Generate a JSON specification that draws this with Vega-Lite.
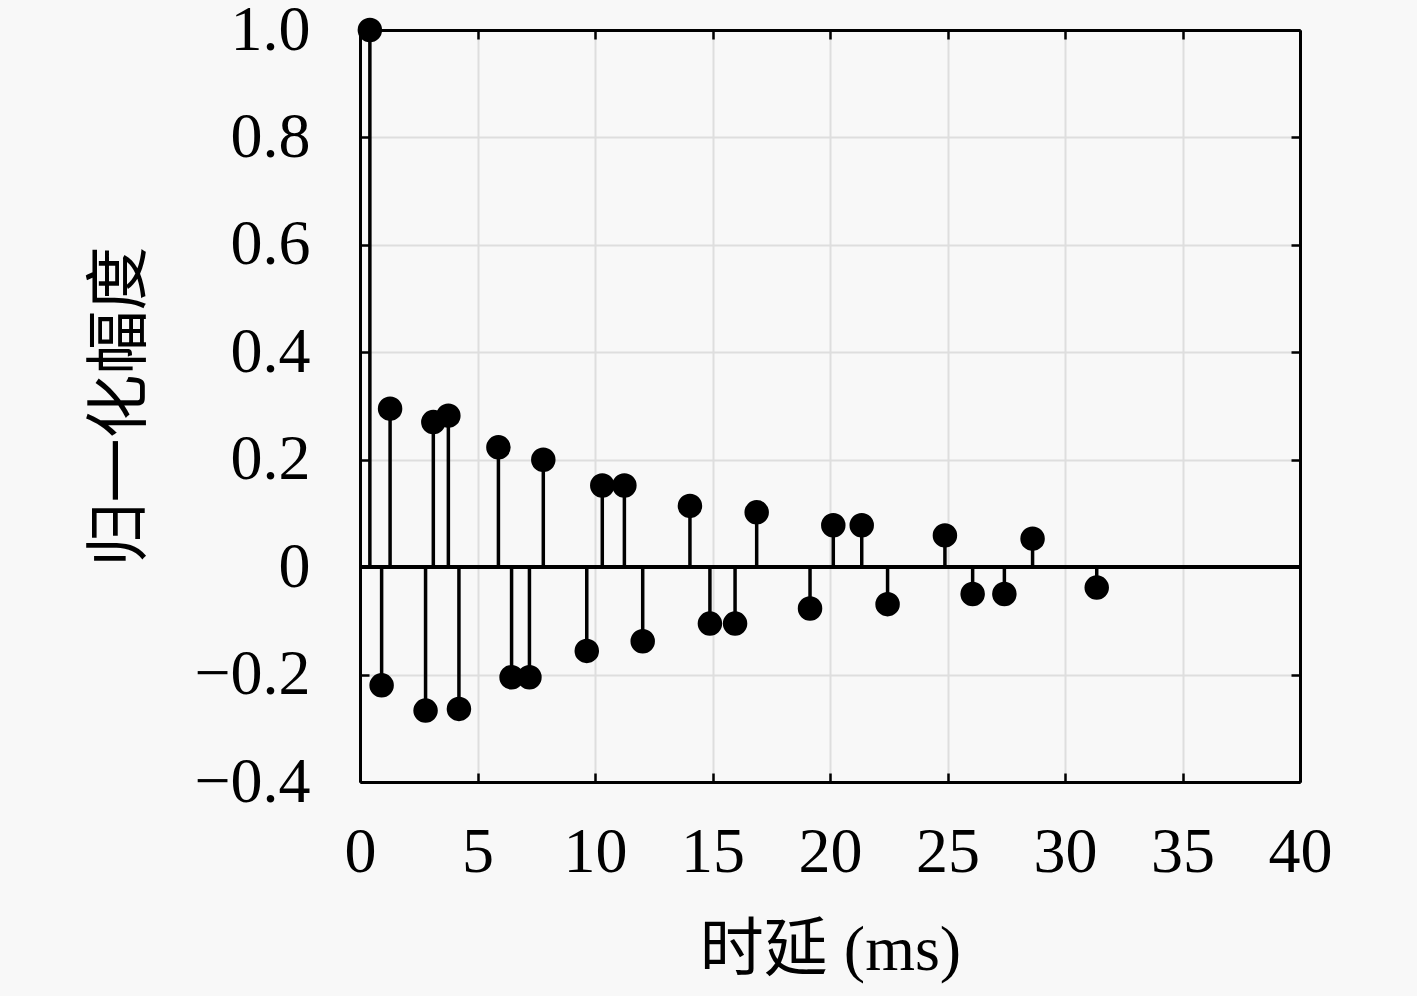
{
  "$schema": "https://vega.github.io/schema/vega-lite/v6.json",
  "width": 940,
  "height": 752,
  "autosize": "none",
  "padding": {"left": 360, "top": 30, "right": 117, "bottom": 214},
  "background": "#f8f8f8",
  "config": {
    "view": {"stroke": null},
    "font": "Liberation Serif",
    "axis": {
      "domainColor": "black",
      "domainWidth": 3,
      "tickColor": "black",
      "tickWidth": 2.5,
      "tickSize": -9,
      "gridColor": "#dedede",
      "gridWidth": 2,
      "labelFont": "Liberation Serif",
      "labelFontSize": 64,
      "labelColor": "black",
      "labelFlush": false,
      "titleFont": "Liberation Serif, Noto Sans CJK SC",
      "titleFontSize": 64,
      "titleFontWeight": "normal",
      "titleColor": "black"
    }
  },
  "data": {
    "values": [
      {"t": 0.42, "v": 1.0},
      {"t": 0.92, "v": -0.22},
      {"t": 1.28, "v": 0.295},
      {"t": 2.79, "v": -0.267},
      {"t": 3.12, "v": 0.27},
      {"t": 3.76, "v": 0.282},
      {"t": 4.21, "v": -0.264},
      {"t": 5.89, "v": 0.223},
      {"t": 6.45, "v": -0.205},
      {"t": 7.21, "v": -0.205},
      {"t": 7.8, "v": 0.2},
      {"t": 9.65, "v": -0.156},
      {"t": 10.31, "v": 0.152},
      {"t": 11.25, "v": 0.152},
      {"t": 12.03, "v": -0.138},
      {"t": 14.04, "v": 0.114},
      {"t": 14.89, "v": -0.105},
      {"t": 15.96, "v": -0.105},
      {"t": 16.88, "v": 0.102},
      {"t": 19.15, "v": -0.077},
      {"t": 20.14, "v": 0.078},
      {"t": 21.35, "v": 0.078},
      {"t": 22.45, "v": -0.069},
      {"t": 24.89, "v": 0.059},
      {"t": 26.07, "v": -0.05},
      {"t": 27.42, "v": -0.05},
      {"t": 28.62, "v": 0.053},
      {"t": 31.35, "v": -0.038}
    ]
  },
  "layer": [
    {
      "mark": {"type": "rule", "color": "black", "strokeWidth": 3.5},
      "encoding": {
        "x": {
          "field": "t",
          "type": "quantitative",
          "scale": {"domain": [0, 40], "nice": false},
          "axis": {
            "orient": "bottom",
            "values": [0, 5, 10, 15, 20, 25, 30, 35, 40],
            "labelPadding": 47,
            "labelBaseline": "top",
            "title": "时延 (ms)",
            "titleX": 470,
            "titleY": 168,
            "titleBaseline": "middle",
            "titleAlign": "center"
          }
        },
        "y": {
          "field": "v",
          "type": "quantitative",
          "scale": {"domain": [-0.4, 1.0], "nice": false, "zero": false},
          "axis": {
            "orient": "left",
            "values": [-0.4, -0.2, 0, 0.2, 0.4, 0.6, 0.8, 1.0],
            "labelExpr": "datum.value == 0 ? '0' : format(datum.value, '.1f')",
            "labelPadding": 59,
            "labelBaseline": "middle",
            "title": "归一化幅度",
            "titleX": -240,
            "titleY": 376,
            "titleAngle": 270,
            "titleBaseline": "middle",
            "titleAlign": "center"
          }
        },
        "y2": {"datum": 0}
      }
    },
    {
      "mark": {"type": "rule", "color": "black", "strokeWidth": 3},
      "encoding": {"y": {"datum": 0, "axis": null}}
    },
    {
      "mark": {"type": "point", "shape": "circle", "filled": true, "size": 600, "color": "black", "opacity": 1},
      "encoding": {
        "x": {
          "field": "t",
          "type": "quantitative",
          "axis": {"orient": "top", "values": [0, 5, 10, 15, 20, 25, 30, 35, 40], "labels": false, "grid": false, "title": null}
        },
        "y": {
          "field": "v",
          "type": "quantitative",
          "axis": {"orient": "right", "values": [-0.4, -0.2, 0, 0.2, 0.4, 0.6, 0.8, 1.0], "labels": false, "grid": false, "title": null}
        }
      }
    }
  ],
  "resolve": {"axis": {"x": "independent", "y": "independent"}}
}
